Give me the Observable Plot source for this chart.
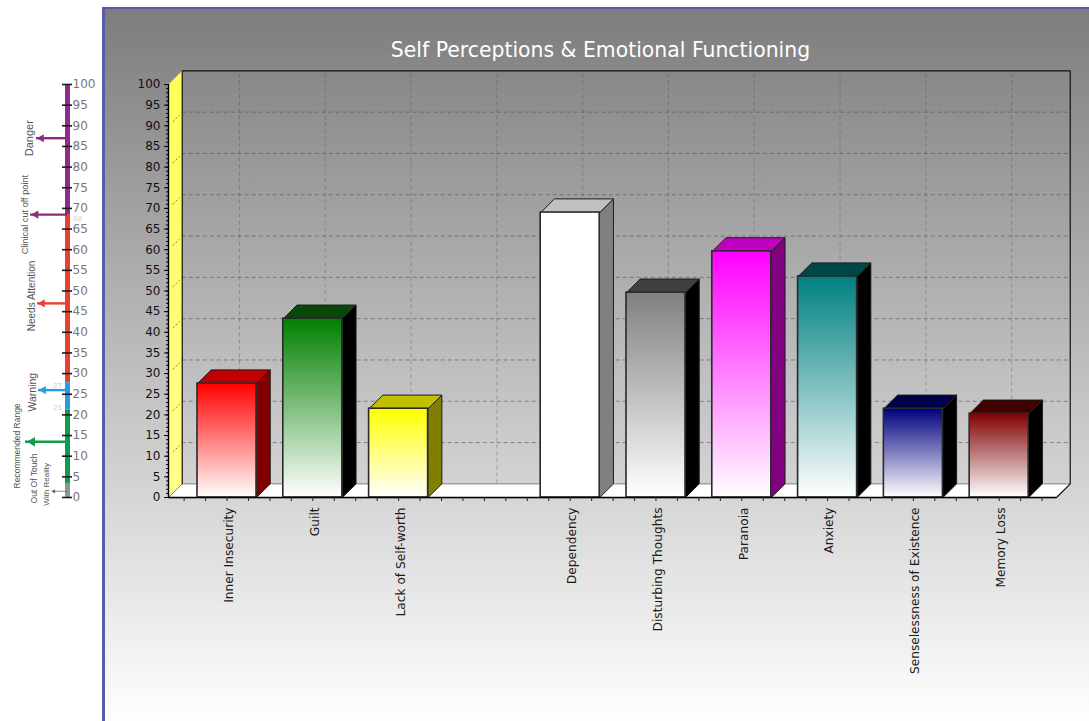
<!DOCTYPE html>
<html>
<head>
<meta charset="utf-8">
<script src="https://cdn.jsdelivr.net/npm/d3@7"></script>
<script src="https://cdn.jsdelivr.net/npm/@observablehq/plot@0.6"></script>
<style>
  html, body { margin: 0; padding: 0; background: #fff; overflow: hidden; }
  #page { position: relative; width: 1089px; height: 721px; overflow: hidden; }
  #panel {
    position: absolute; left: 102px; top: 7px; right: -4px; bottom: -4px;
    border-left: 3px solid #5c5ca6; border-top: 2px solid #5c5ca6;
    background: linear-gradient(#7d7d7d, #ffffff);
  }
  #page svg { position: absolute; left: 0; top: 0; overflow: visible; }
</style>
</head>
<body>
<div id="page"><div id="panel"></div></div>
<script>
// Scale scores per category; the empty slot separates the two groups of bars.
const categories = ["Inner Insecurity", "Guilt", "Lack of Self-worth", "", "Dependency",
  "Disturbing Thoughts", "Paranoia", "Anxiety", "Senselessness of Existence", "Memory Loss"];
const scores = [27.6, 43.3, 21.5, null, 69, 49.6, 59.6, 53.5, 21.5, 20.3];
const frontColors = ["#ff0000", "#008000", "#ffff00", null, "#ffffff", "#808080", "#ff00ff", "#008080", "#000080", "#800000"];
const topColors = ["#c00000", "#0a480a", "#c0c000", null, "#c0c0c0", "#404040", "#c000c0", "#004848", "#000048", "#400000"];
const sideColors = ["#800000", "#000000", "#808000", null, "#808080", "#000000", "#800080", "#000000", "#000000", "#000000"];

// Interpretation ladder drawn beside the chart.
const ladderTicks = d3.range(0, 101, 5);
const ladderBands = [
  {from: 68.5, to: 100, color: "#8e2a8e"},
  {from: 27.8, to: 68.5, color: "#e8412f"},
  {from: 21.2, to: 27.8, color: "#2a9ae2"},
  {from: 3.4, to: 21.2, color: "#109a4e"},
  {from: 0, to: 3.4, color: "#8a9a90"}
];
const ladderArrows = [
  {value: 87, tip: 36, color: "#8e2a7e", size: 5.5},
  {value: 68.5, tip: 30, color: "#8e2a7e", size: 6},
  {value: 47, tip: 37, color: "#e8412f", size: 5.5},
  {value: 26, tip: 38, color: "#2a9ae2", size: 5.5},
  {value: 13.5, tip: 25, color: "#109a4e", size: 7.5},
  {value: 1.5, tip: 52, color: "#666666", size: 1.5}
];
const ladderNotes = [
  {text: "Danger", lane: 29, value: 87, size: 11},
  {text: "Clinical cut off point", lane: 25, value: 68.5, size: 9.2},
  {text: "Needs Attention", lane: 31, value: 48.8, size: 10},
  {text: "Warning", lane: 32, value: 25.5, size: 10.5},
  {text: "Recommended Range", lane: 17, value: 12.5, size: 8.5},
  {text: "Out Of Touch", lane: 34, value: 4.6, size: 8.5},
  {text: "With Reality", lane: 46, value: 3.2, size: 8}
];
const ladderCutoffs = [
  {text: "68", lane: 77, value: 67.6, color: "#e3cfe3"},
  {text: "27", lane: 57, value: 27.1, color: "#a9d8f2"},
  {text: "21", lane: 57, value: 21.7, color: "#a9d8f2"}
];

// Oblique extrusion of the chart box, in slot and score units.
const depthX = 0.16;
const depthY = 3.3;
const halfBar = 0.344;
const floorLeft = -0.682;
const floorRight = 9.668;

const bars = categories
  .map((name, i) => ({name, i, score: scores[i], front: frontColors[i], top: topColors[i], side: sideColors[i]}))
  .filter((d) => d.score != null);

const polygon = (points, options) =>
  Plot.line(points, {x: "0", y: "1", curve: "linear-closed", strokeLinejoin: "round", ...options});

// Vertical fades shared by the bar fronts and the left wall.
function gradients() {
  const defs = d3.create("svg:defs");
  const add = (id, top, bottom) => {
    const g = defs.append("linearGradient").attr("id", id).attr("x1", 0).attr("x2", 0).attr("y1", 0).attr("y2", 1);
    g.append("stop").attr("offset", "0%").attr("stop-color", top);
    g.append("stop").attr("offset", "100%").attr("stop-color", bottom);
  };
  bars.forEach((d) => add(`front${d.i}`, d.front, "#ffffff"));
  add("wallFade", "#ffff5a", "#ffff8c");
  return defs.node();
}

const barMarks = bars.flatMap((d) => {
  const left = d.i - halfBar;
  const right = d.i + halfBar;
  return [
    polygon([[right, 0], [right + depthX, depthY], [right + depthX, d.score + depthY], [right, d.score]],
      {fill: d.side, stroke: "#1c1c1c", strokeWidth: 1}),
    polygon([[left, d.score], [left + depthX, d.score + depthY], [right + depthX, d.score + depthY], [right, d.score]],
      {fill: d.top, stroke: "#1c1c1c", strokeWidth: 1}),
    Plot.rect([d], {x1: () => left, x2: () => right, y1: () => 0, y2: () => d.score,
      fill: `url(#front${d.i})`, stroke: "#2a2a2a", strokeWidth: 1.6})
  ];
});

const chart = Plot.plot({
  width: 1089, height: 721,
  marginLeft: 168, marginRight: 33, marginTop: 84, marginBottom: 224,
  style: {background: "transparent", fontFamily: "DejaVu Sans", overflow: "visible"},
  x: {type: "linear", domain: [floorLeft, floorRight]},
  y: {type: "linear", domain: [0, 100]},
  marks: [
    gradients,
    // Left wall and floor of the box
    polygon([[floorLeft, 0], [floorLeft + depthX, depthY], [floorLeft + depthX, 100 + depthY], [floorLeft, 100]],
      {fill: "url(#wallFade)", stroke: "none"}),
    polygon([[floorLeft, 0], [floorLeft + depthX, depthY], [floorRight + depthX, depthY], [floorRight, 0]],
      {fill: "#ffffff", stroke: "#808080", strokeWidth: 1}),
    // Dashed grid on the back wall and its return onto the left wall
    Plot.ruleY(d3.range(10, 100, 10), {y: (d) => d + depthY, x1: floorLeft + depthX, x2: floorRight + depthX,
      stroke: "#4a4a4a", strokeWidth: 1, strokeDasharray: "4,3", strokeOpacity: 0.55}),
    Plot.ruleX(d3.range(0, 10), {x: (d) => d + depthX - 0.015, y1: depthY, y2: 100 + depthY,
      stroke: "#4a4a4a", strokeWidth: 1, strokeDasharray: "4,3", strokeOpacity: 0.35}),
    Plot.link(d3.range(10, 100, 10), {x1: floorLeft + 0.05, x2: floorLeft + depthX - 0.03, y1: (d) => d + 1, y2: (d) => d + depthY - 0.7,
      stroke: "#77772a", strokeWidth: 1, strokeDasharray: "2,2"}),
    // Outline of the back wall
    Plot.line([[floorLeft + depthX, depthY], [floorLeft + depthX, 100 + depthY], [floorRight + depthX, 100 + depthY], [floorRight + depthX, depthY], [floorRight, 0]],
      {x: "0", y: "1", stroke: "#111111", strokeWidth: 1.2}),
    ...barMarks,
    // Baseline and axes
    Plot.ruleY([0], {x1: floorLeft, x2: floorRight, stroke: "#000000", strokeWidth: 1.6}),
    Plot.ruleX([floorLeft], {y1: 0, y2: 100, stroke: "#000000", strokeWidth: 1.4}),
    Plot.axisY({ticks: d3.range(0, 101, 1), tickFormat: () => "", tickSize: 2, label: null, stroke: "#000000"}),
    Plot.axisY({ticks: d3.range(0, 101, 5), tickSize: 4, tickPadding: 4, fontSize: 12, fill: "#111111", label: null, stroke: "#000000"}),
    Plot.axisX({ticks: d3.range(-0.5, 9.75, 0.25), tickFormat: () => "", tickSize: 4, label: null, stroke: "#222222"}),
    Plot.text(bars, {x: "i", y: () => -2.4, text: "name", rotate: -90, textAnchor: "end", dx: 2,
      fontSize: 12.2, fill: "#1a1a1a"}),
    Plot.text(["Self Perceptions & Emotional Functioning"], {x: () => 4.353, y: () => 108.2, text: (d) => d,
      fontSize: 20.4, fill: "#ffffff"})
  ]
});

const ladder = Plot.plot({
  width: 103, height: 721,
  marginLeft: 0, marginRight: 36, marginTop: 84, marginBottom: 224,
  style: {background: "transparent", fontFamily: "Liberation Sans", overflow: "visible"},
  x: {type: "linear", domain: [0, 67], axis: null},
  y: {type: "linear", domain: [0, 100]},
  marks: [
    Plot.ruleX(ladderBands, {x: () => 67, y1: "from", y2: "to", stroke: "color", strokeWidth: 5}),
    Plot.ruleY(ladderTicks, {x1: () => 62, x2: () => 72, stroke: "#1c1c1c", strokeWidth: 1.6}),
    Plot.axisY({anchor: "right", ticks: ladderTicks, tickSize: 0, tickPadding: 5, fontFamily: "DejaVu Sans",
      fontSize: 12, fill: "#777777", label: null}),
    Plot.ruleY(ladderArrows, {y: "value", x1: "tip", x2: () => 67, stroke: "color", strokeWidth: (d) => Math.min(2.4, d.size / 2)}),
    Plot.dot(ladderArrows, {x: (d) => d.tip + d.size * 0.9, y: "value", symbol: "triangle", rotate: -90, r: "size",
      fill: "color", stroke: "none"}),
    Plot.text(ladderNotes, {x: "lane", y: "value", text: "text", rotate: -90, fontSize: "size", fill: "#555555"}),
    Plot.text(ladderCutoffs, {x: "lane", y: "value", text: "text", fill: "color", fontSize: 8})
  ]
});

const page = document.getElementById("page");
page.append(chart, ladder);
</script>
</body>
</html>
